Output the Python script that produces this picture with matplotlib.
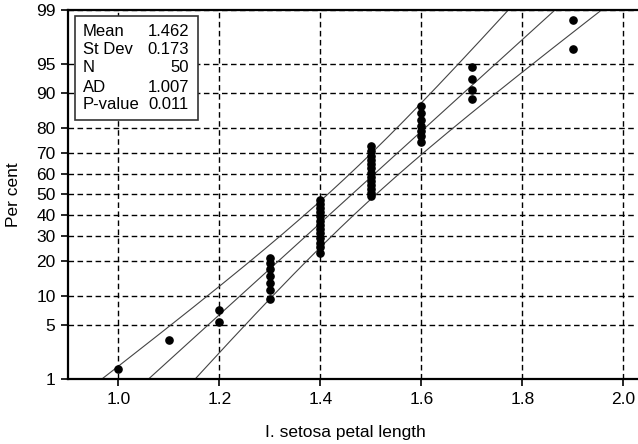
import numpy as np
import matplotlib
matplotlib.use("Agg")
import matplotlib.pyplot as plt
from matplotlib.patches import Rectangle
from statistics import NormalDist

plt.rcParams['font.family'] = ['Liberation Sans', 'DejaVu Sans']

# I. setosa petal lengths (cm)
petal_length = [1.0] + [1.1] + [1.2] * 2 + [1.3] * 7 + [1.4] * 13 + [1.5] * 13 + [1.6] * 7 + [1.7] * 4 + [1.9] * 2

stat_names = ["Mean", "St Dev", "N", "AD", "P-value"]
stat_values = ["1.462", "0.173", "50", "1.007", "0.011"]
MEAN = 1.462
SD = 0.173
N = 50

y_ticks = [1, 5, 10, 20, 30, 40, 50, 60, 70, 80, 90, 95, 99]
x_ticks = [1.0, 1.2, 1.4, 1.6, 1.8, 2.0]

nd = NormalDist()
_ppf = np.vectorize(lambda p: nd.inv_cdf(min(max(p / 100.0, 1e-6), 1 - 1e-6)), otypes=[float])
_cdf = np.vectorize(lambda z: nd.cdf(z) * 100.0, otypes=[float])


def forward(p):
    return _ppf(np.asarray(p, dtype=float))


def inverse(z):
    return _cdf(np.asarray(z, dtype=float))


fig = plt.figure(figsize=(6.38, 4.44), dpi=100)
ax = fig.add_axes([68 / 638, 65 / 444, 569 / 638, 369 / 444])
ax.set_yscale('function', functions=(forward, inverse))

# median-rank plotting positions
x_sorted = np.sort(petal_length)
ranks = np.arange(1, len(x_sorted) + 1)
pct = (ranks - 0.3) / (len(x_sorted) + 0.4) * 100

# fitted line and 95% confidence band
p_line = np.linspace(0.3, 99.7, 400)
z_line = forward(p_line)
x_fit = MEAN + z_line * SD
half = 1.96 * SD * np.sqrt(1 / N + z_line ** 2 / (2 * N))

for xs in (x_fit - half, x_fit, x_fit + half):
    ax.plot(xs, p_line, color='#444444', lw=0.8)

ax.plot(x_sorted, pct, 'o', color='black', ms=5.2, zorder=3)

ax.set_xlim(0.9, 2.027)
ax.set_ylim(1, 99)
ax.set_yticks(y_ticks)
ax.set_yticklabels([str(t) for t in y_ticks])
ax.set_xticks(x_ticks)
ax.set_xticklabels([f"{t:.1f}" for t in x_ticks])
ax.minorticks_off()
ax.tick_params(labelsize=12.5, length=5, width=1.2, direction='out', pad=4)

ax.grid(True, color='black', ls=(0, (4, 2.5)), lw=1.0)
for side in ('left', 'bottom', 'top'):
    ax.spines[side].set_linewidth(1.6)
ax.spines['right'].set_visible(False)

ax.set_xlabel("I. setosa petal length", fontsize=12.5)
ax.set_ylabel("Per cent", fontsize=12.5)
ax.xaxis.set_label_coords(0.487, -0.125)
ax.yaxis.set_label_coords(-0.082, 0.5)

# stats box
ax.add_patch(Rectangle((0.0123, 0.702), 0.2162, 0.2815, transform=ax.transAxes,
                       facecolor='white', edgecolor='#333333', lw=1.2, zorder=4))
row_y = [0.943, 0.894, 0.843, 0.791, 0.743]
for name, val, yy in zip(stat_names, stat_values, row_y):
    ax.text(0.026, yy, name, transform=ax.transAxes, fontsize=12, va='center', ha='left', zorder=5)
    ax.text(0.2127, yy, val, transform=ax.transAxes, fontsize=12, va='center', ha='right', zorder=5)

fig.savefig("out.png", dpi=100)
